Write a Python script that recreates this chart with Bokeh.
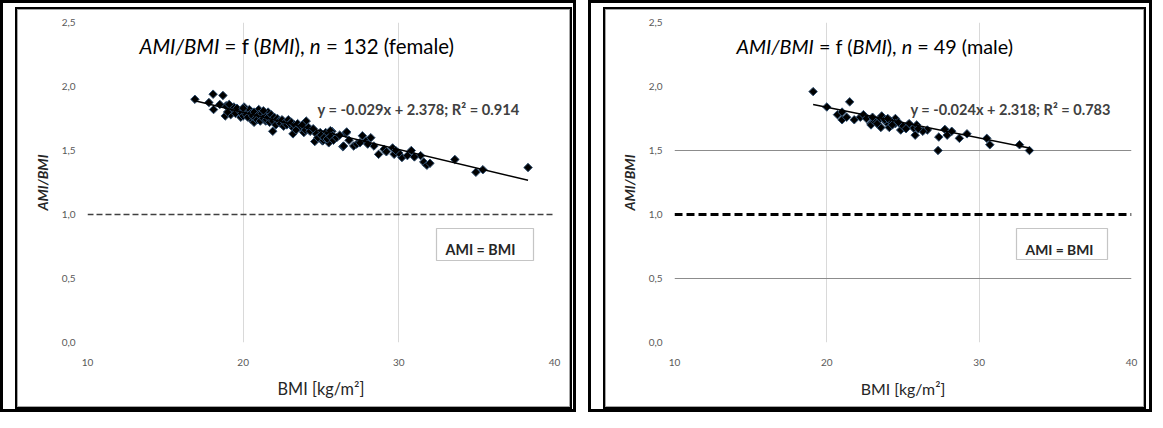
import glob, os
import numpy as np
from bokeh.plotting import figure
from bokeh.layouts import row, column
from bokeh.models import Span, Label, BoxAnnotation, CustomJSTickFormatter, FixedTicker, Range1d
from bokeh.embed import file_html
from bokeh.resources import INLINE

# ---------------- data ----------------
female_bmi = [16.9, 18.07, 18.7, 17.8, 18.1, 18.9, 18.85, 19.3, 19.2, 19.7,
              20.06, 19.85, 20.3, 20.5, 20.8, 21.0, 20.7, 21.2, 21.6, 21.45,
              21.9, 21.9, 22.2, 22.5, 22.85, 23.2, 23.1, 23.6, 24.05, 23.9,
              24.6, 24.9, 25.1, 25.3, 25.7, 25.5, 26.6, 26.4,
              24.95, 25.35, 25.15, 25.6, 25.75, 26.65, 26.45, 27.1, 27.66, 27.3,
              27.9, 28.4, 28.7, 29.05, 29.6, 29.7, 30.2, 30.55, 30.8, 31.4,
              31.6, 31.8, 33.6, 34.95, 35.4, 38.3,
              19.0, 19.4, 19.5, 19.6, 19.9, 20.0, 20.1, 20.2, 20.3, 20.4,
              20.5, 20.6, 20.7, 20.8, 20.9, 21.0, 21.1, 21.2, 21.3, 21.4,
              21.5, 21.6, 21.7, 21.8, 21.9, 22.0, 22.1, 22.2, 22.3, 22.4,
              22.5, 22.6, 22.7, 22.8, 22.9, 23.0, 23.1, 23.3, 23.4, 23.5,
              23.7, 23.8, 24.0, 24.2, 24.3, 24.5, 24.7, 24.8, 25.0, 25.2,
              25.4, 25.6, 25.8, 26.0, 26.2, 26.8, 27.5, 28.0, 28.2, 29.2,
              30.0, 29.8, 31.0, 32.0, 18.5, 19.1, 20.0, 21.3]
female_ratio = [1.90, 1.94, 1.93, 1.875, 1.82, 1.85, 1.77, 1.82, 1.78, 1.81,
                1.84, 1.76, 1.80, 1.745, 1.78, 1.82, 1.72, 1.76, 1.80, 1.73,
                1.745, 1.65, 1.72, 1.705, 1.72, 1.63, 1.69, 1.68, 1.73, 1.64,
                1.57, 1.61, 1.575, 1.64, 1.65, 1.56, 1.635, 1.53,
                1.64, 1.62, 1.58, 1.655, 1.615, 1.645, 1.535, 1.535, 1.615, 1.55,
                1.575, 1.535, 1.47, 1.51, 1.52, 1.47, 1.445, 1.46, 1.50, 1.46,
                1.41, 1.385, 1.43, 1.33, 1.35, 1.367,
                1.80, 1.84, 1.79, 1.83, 1.79, 1.77, 1.81, 1.78, 1.76, 1.82,
                1.79, 1.77, 1.80, 1.75, 1.74, 1.78, 1.73, 1.79, 1.75, 1.77,
                1.74, 1.76, 1.72, 1.78, 1.73, 1.76, 1.70, 1.75, 1.73, 1.71,
                1.74, 1.69, 1.72, 1.70, 1.74, 1.71, 1.72, 1.70, 1.66, 1.71,
                1.69, 1.70, 1.66, 1.68, 1.65, 1.67, 1.63, 1.60, 1.62, 1.60,
                1.59, 1.61, 1.58, 1.60, 1.62, 1.58, 1.56, 1.55, 1.60, 1.49,
                1.48, 1.50, 1.45, 1.40, 1.86, 1.86, 1.83, 1.81]

male_bmi = [19.1, 20.0, 20.7, 21.0, 21.0, 21.5, 21.8, 22.2, 22.4, 22.9,
            22.9, 23.1, 23.5, 23.6, 23.55, 23.9, 24.1, 24.5, 24.5, 24.85,
            25.4, 25.7, 25.9, 25.8, 26.6, 27.3, 27.35, 27.75, 27.9, 28.2,
            28.7, 29.2, 30.5, 30.7, 32.65, 33.3, 22.6, 23.0, 23.3, 23.8,
            24.2, 24.3, 24.7, 25.0, 25.2, 26.3, 26.0, 21.3, 24.0]
male_ratio = [1.96, 1.84, 1.78, 1.80, 1.74, 1.88, 1.74, 1.76, 1.78, 1.71,
              1.70, 1.73, 1.75, 1.77, 1.68, 1.72, 1.68, 1.75, 1.71, 1.66,
              1.71, 1.675, 1.70, 1.62, 1.66, 1.50, 1.605, 1.665, 1.62, 1.65,
              1.595, 1.63, 1.595, 1.545, 1.545, 1.50, 1.75, 1.76, 1.71, 1.74,
              1.73, 1.70, 1.72, 1.69, 1.67, 1.65, 1.67, 1.76, 1.75]

female_slope, female_intercept = -0.029, 2.378
male_slope, male_intercept = -0.024, 2.318
female_eq = "y = -0.029x + 2.378; R² = 0.914"
male_eq = "y = -0.024x + 2.318; R² = 0.783"
female_title = [("AMI/BMI", True), (" = f (", False), ("BMI", True), ("), ", False),
                ("n", True), (" = 132 (female)", False)]
male_title = [("AMI/BMI", True), (" = f (", False), ("BMI", True), ("), ", False),
              ("n", True), (" = 49 (male)", False)]
x_label = "BMI [kg/m²]"
y_label = "AMI/BMI"
x_ticks = [10, 20, 30, 40]
y_ticks = [0.0, 0.5, 1.0, 1.5, 2.0, 2.5]
reference_value = 1.0
reference_label = "AMI = BMI"

# ---------------- text measuring (layout only) ----------------
FONT = "Lato"
_FILES = {"normal": "Lato-Regular.ttf", "italic": "Lato-Italic.ttf",
          "bold": "Lato-Bold.ttf", "bold italic": "Lato-BoldItalic.ttf"}
_cache = {}
try:
    from PIL import ImageFont
except Exception:
    ImageFont = None


def _font(style):
    if style in _cache:
        return _cache[style]
    f = None
    if ImageFont is not None:
        for root in ["/usr/share/fonts", "/usr/local/share/fonts",
                     os.path.expanduser("~/.fonts"), os.path.expanduser("~/.local/share/fonts")]:
            hits = glob.glob(os.path.join(root, "**", _FILES[style]), recursive=True)
            if hits:
                try:
                    f = ImageFont.truetype(hits[0], 100)
                except Exception:
                    f = None
                break
    _cache[style] = f
    return f


def text_width(s, style, size):
    f = _font(style)
    if f is None:
        return len(s) * 0.52 * size
    return f.getlength(s) * size / 100.0


def style_of(italic, bold):
    if bold and italic:
        return "bold italic"
    if bold:
        return "bold"
    if italic:
        return "italic"
    return "normal"


# ---------------- panel ----------------
CANVAS_TOP, CANVAS_H = 17, 398


def make_panel(bmi, ratio, slope, intercept, eq, title_segs, g):
    cl, cw = g["canvas_left"], g["canvas_w"]
    fx0, fx1, fy0, fy1 = g["frame"]
    p = figure(width=cw, height=CANVAS_H, x_range=Range1d(10, 40), y_range=Range1d(0, 2.5),
               output_backend="svg", toolbar_location=None,
               min_border_left=fx0 - cl, min_border_right=cl + cw - fx1,
               min_border_top=fy0 - CANVAS_TOP, min_border_bottom=CANVAS_TOP + CANVAS_H - fy1)
    p.border_fill_color = None
    p.background_fill_color = "white"
    p.outline_line_color = None
    p.styles = {"outline": "2px solid black", "box-shadow": "inset 0 0 0 1px #a6a6a6",
                "background-color": "white"}

    def X(px):
        return 10 + (px - fx0) * 30.0 / (fx1 - fx0)

    def Y(py):
        return 2.5 - (py - fy0) * 2.5 / (fy1 - fy0)

    # grids
    p.xgrid.ticker = FixedTicker(ticks=x_ticks)
    p.xgrid.grid_line_color = "#d9d9d9"
    p.xgrid.grid_line_width = 1
    p.ygrid.ticker = FixedTicker(ticks=g["ygrid"])
    p.ygrid.grid_line_color = g["ygrid_color"]
    p.ygrid.grid_line_width = 1

    # axes
    p.xaxis.ticker = FixedTicker(ticks=x_ticks)
    p.yaxis.ticker = FixedTicker(ticks=y_ticks)
    p.yaxis.formatter = CustomJSTickFormatter(code="return tick.toFixed(1).replace('.', ',');")
    for ax in (p.xaxis, p.yaxis):
        ax.axis_line_color = None
        ax.major_tick_line_color = None
        ax.minor_tick_line_color = None
        ax.major_tick_out = 0
        ax.major_tick_in = 0
        ax.minor_tick_out = 0
        ax.major_label_text_font = FONT
        ax.major_label_text_font_size = "10px"
        ax.major_label_text_color = "#595959"
        ax.axis_label_text_font = FONT
        ax.axis_label_text_color = "#262626"
    p.xaxis.major_label_standoff = 16
    p.yaxis.major_label_standoff = 12
    p.yaxis.axis_label = y_label
    p.yaxis.axis_label_text_font_style = "bold italic"
    p.yaxis.axis_label_text_font_size = "14px"
    p.yaxis.axis_label_standoff = 8
    xl_size = 16 * g["xlabel_w"] / text_width(x_label, "normal", 16)
    p.xaxis.axis_label = x_label
    p.xaxis.axis_label_text_font_style = "normal"
    p.xaxis.axis_label_text_font_size = f"{xl_size:.1f}px"
    p.xaxis.axis_label_standoff = 10

    # reference line AMI = BMI
    p.add_layout(Span(location=reference_value, dimension="width", line_color=g["dash_color"],
                      line_width=g["dash_width"], line_dash=g["dash"]))

    # data
    p.scatter(bmi, ratio, marker="square", size=6, angle=np.pi / 4,
              fill_color="black", line_color="#2e4d6e", line_width=1)
    xs = [min(bmi), max(bmi)]
    p.line(xs, [slope * x + intercept for x in xs], line_color="black", line_width=1.5)

    # rich text helper (segments placed one after another)
    def rich(segs, left, base, target_w, bold, color, base_size=16):
        w0 = sum(text_width(t, style_of(it, bold), base_size) for t, it in segs)
        size = base_size * target_w / w0
        x = left
        for t, it in segs:
            st = style_of(it, bold)
            stripped = t.lstrip(" ")
            lead = text_width(t[: len(t) - len(stripped)], st, size)
            p.add_layout(Label(x=X(x + lead), y=Y(base), text=stripped, text_font=FONT,
                               text_font_size=f"{size:.2f}px", text_font_style=st,
                               text_color=color, text_baseline="alphabetic", text_align="left"))
            x += text_width(t, st, size)
        return size

    # title inside the chart
    rich(title_segs, g["title_left"], g["title_base"], g["title_w"], False, "#000000")
    # regression equation
    rich([(eq, False)], g["eq_left"], g["eq_base"], g["eq_w"], True, "#404040")

    # "AMI = BMI" box
    bl, br, bt, bb = g["box"]
    p.add_layout(BoxAnnotation(left=X(bl), right=X(br), top=Y(bt), bottom=Y(bb),
                               fill_color="white", fill_alpha=1, line_color="#404040",
                               line_width=1.2))
    rich([(reference_label, False)], g["box_text_left"], g["box_text_base"], g["box_text_w"],
         True, "#262626")
    return p


left_geom = dict(canvas_left=25, canvas_w=553, frame=(95, 562, 30, 350),
                 ygrid=[2.5], ygrid_color="#d9d9d9",
                 dash_color="#404040", dash_width=1.3, dash="6 3",
                 title_left=147, title_base=53, title_w=315,
                 eq_left=325, eq_base=117, eq_w=202,
                 xlabel_w=87,
                 box=(444, 541, 236, 268), box_text_left=453, box_text_base=257, box_text_w=70)
right_geom = dict(canvas_left=613, canvas_w=539, frame=(682, 1139, 30, 350),
                  ygrid=[0.5, 1.5], ygrid_color="#8c8c8c",
                  dash_color="#000000", dash_width=3, dash="8 4",
                  title_left=744, title_base=53, title_w=277,
                  eq_left=918, eq_base=117, eq_w=200,
                  xlabel_w=85,
                  box=(1024, 1115, 236, 267), box_text_left=1033, box_text_base=257, box_text_w=68)

p1 = make_panel(female_bmi, female_ratio, female_slope, female_intercept, female_eq,
                female_title, left_geom)
p2 = make_panel(male_bmi, male_ratio, male_slope, male_intercept, male_eq,
                male_title, right_geom)

p1.margin = (6, 3, 2, 14)
p2.margin = (6, 5, 2, 14)
c1 = column(p1, styles={"outline": "3px solid black"})
c2 = column(p2, styles={"outline": "3px solid black"})
layout = row(c1, c2, spacing=18, margin=(3, 0, 0, 3))

open("out.html", "w").write(file_html(layout, INLINE))
